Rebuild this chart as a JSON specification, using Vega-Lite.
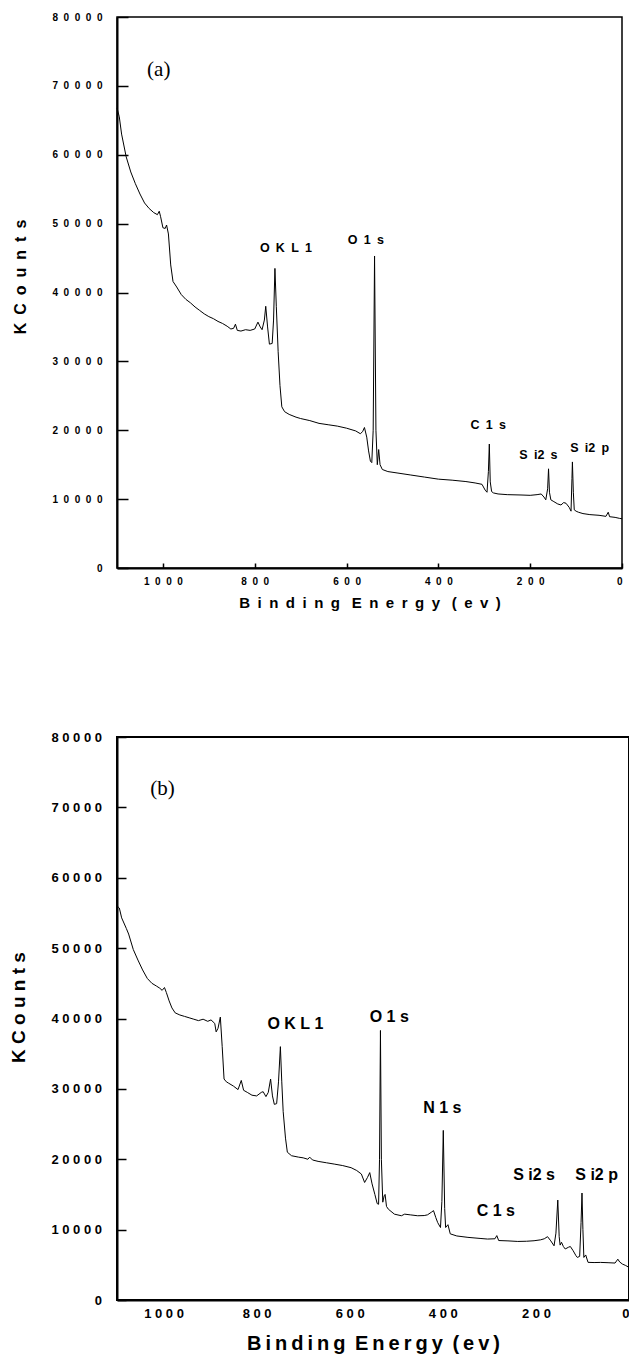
{
  "$schema": "https://vega.github.io/schema/vega-lite/v6.json",
  "background": "white",
  "padding": {"left": 8, "top": 11, "right": 0, "bottom": 0},
  "spacing": 119,
  "config": {
    "axis": {"grid": false, "domainColor": "black", "tickColor": "black", "labelColor": "black", "titleColor": "black", "labelFont": "Liberation Sans", "titleFont": "Liberation Sans", "labelFontWeight": "bold", "titleFontWeight": "bold"},
    "text": {"font": "Liberation Sans", "fontWeight": "bold", "color": "black", "baseline": "middle", "align": "center"}
  },
  "datasets": {
    "specA": [
      {"E":1100,"C":66800},{"E":1095,"C":65500},{"E":1090,"C":63000},{"E":1080,"C":59700},{"E":1070,"C":57500},{"E":1060,"C":55800},{"E":1050,"C":54300},{"E":1040,"C":53000},{"E":1030,"C":52200},{"E":1020,"C":51600},{"E":1012,"C":51300},{"E":1008,"C":51800},{"E":1005,"C":51000},{"E":1000,"C":49400},{"E":995,"C":49300},{"E":992,"C":49800},{"E":988,"C":48500},{"E":983,"C":44000},{"E":978,"C":41600},{"E":970,"C":40800},{"E":960,"C":39700},{"E":950,"C":39000},{"E":940,"C":38500},{"E":930,"C":37900},{"E":920,"C":37400},{"E":910,"C":36900},{"E":900,"C":36500},{"E":890,"C":36200},{"E":880,"C":35800},{"E":870,"C":35500},{"E":860,"C":35100},{"E":852,"C":34700},{"E":846,"C":34800},{"E":842,"C":35400},{"E":838,"C":34500},{"E":830,"C":34400},{"E":820,"C":34600},{"E":810,"C":34500},{"E":800,"C":34700},{"E":793,"C":35700},{"E":788,"C":35000},{"E":784,"C":34600},{"E":779,"C":36000},{"E":776,"C":38000},{"E":772,"C":35000},{"E":768,"C":32500},{"E":762,"C":32600},{"E":759,"C":36000},{"E":756,"C":43500},{"E":753,"C":38000},{"E":749,"C":31400},{"E":745,"C":26500},{"E":741,"C":23400},{"E":735,"C":22700},{"E":725,"C":22300},{"E":710,"C":21900},{"E":700,"C":21700},{"E":680,"C":21400},{"E":660,"C":21000},{"E":640,"C":20800},{"E":620,"C":20600},{"E":600,"C":20300},{"E":580,"C":19900},{"E":570,"C":19500},{"E":565,"C":19800},{"E":561,"C":20400},{"E":556,"C":19000},{"E":552,"C":17000},{"E":548,"C":15500},{"E":545,"C":15300},{"E":542,"C":20000},{"E":539,"C":45300},{"E":536,"C":20000},{"E":533,"C":15000},{"E":530,"C":17200},{"E":527,"C":15000},{"E":522,"C":14300},{"E":510,"C":14000},{"E":490,"C":13800},{"E":460,"C":13500},{"E":430,"C":13200},{"E":400,"C":12900},{"E":370,"C":12750},{"E":340,"C":12550},{"E":320,"C":12350},{"E":305,"C":12150},{"E":298,"C":11300},{"E":294,"C":11000},{"E":291,"C":14000},{"E":289,"C":18000},{"E":287,"C":12500},{"E":284,"C":11100},{"E":280,"C":10900},{"E":270,"C":10750},{"E":250,"C":10650},{"E":220,"C":10600},{"E":200,"C":10550},{"E":185,"C":10650},{"E":176,"C":10750},{"E":170,"C":10300},{"E":166,"C":9900},{"E":162,"C":11500},{"E":160,"C":14400},{"E":158,"C":11000},{"E":155,"C":9900},{"E":150,"C":9700},{"E":140,"C":9300},{"E":133,"C":9150},{"E":127,"C":9500},{"E":122,"C":9400},{"E":115,"C":8800},{"E":111,"C":8250},{"E":109,"C":13000},{"E":108,"C":15400},{"E":106,"C":11000},{"E":104,"C":8450},{"E":100,"C":8250},{"E":95,"C":8100},{"E":85,"C":7900},{"E":70,"C":7750},{"E":50,"C":7650},{"E":35,"C":7500},{"E":30,"C":8100},{"E":27,"C":7450},{"E":15,"C":7350},{"E":5,"C":7200},{"E":0,"C":7150}
    ],
    "labelsA": [
      {"E":732,"C":46530,"label":"O\u2002K\u2002L\u20021"},
      {"E":558,"C":47670,"label":"O\u20021\u2002s"},
      {"E":291.5,"C":20800,"label":"C\u20021\u2002s"},
      {"E":182,"C":16350,"label":"S\u2002i2\u2002s"},
      {"E":70.5,"C":17410,"label":"S\u2002i2\u2002p"}
    ],
    "tagA": [{"E":1009,"C":72320,"label":"(a)"}],
    "specB": [
      {"E":1100,"C":56000},{"E":1095,"C":55700},{"E":1090,"C":54300},{"E":1080,"C":52800},{"E":1075,"C":52000},{"E":1065,"C":49800},{"E":1055,"C":48300},{"E":1045,"C":46900},{"E":1035,"C":45700},{"E":1025,"C":45000},{"E":1015,"C":44600},{"E":1008,"C":44300},{"E":1003,"C":44000},{"E":998,"C":44400},{"E":994,"C":43700},{"E":988,"C":42500},{"E":982,"C":41500},{"E":975,"C":40800},{"E":965,"C":40500},{"E":955,"C":40300},{"E":945,"C":40100},{"E":935,"C":39900},{"E":925,"C":39700},{"E":915,"C":39900},{"E":905,"C":39600},{"E":898,"C":39800},{"E":890,"C":39300},{"E":887,"C":38100},{"E":883,"C":38600},{"E":878,"C":40200},{"E":874,"C":36000},{"E":870,"C":31400},{"E":865,"C":31000},{"E":860,"C":30800},{"E":850,"C":30400},{"E":840,"C":29900},{"E":833,"C":31200},{"E":828,"C":29800},{"E":820,"C":29500},{"E":810,"C":29100},{"E":800,"C":29000},{"E":790,"C":29500},{"E":786,"C":29600},{"E":780,"C":28900},{"E":775,"C":29500},{"E":770,"C":31400},{"E":766,"C":29000},{"E":762,"C":27800},{"E":757,"C":27900},{"E":753,"C":31000},{"E":749,"C":36000},{"E":746,"C":31000},{"E":743,"C":26800},{"E":738,"C":23000},{"E":734,"C":21000},{"E":725,"C":20500},{"E":710,"C":20300},{"E":700,"C":20200},{"E":690,"C":20000},{"E":686,"C":20300},{"E":680,"C":19900},{"E":668,"C":19700},{"E":650,"C":19500},{"E":632,"C":19300},{"E":615,"C":19100},{"E":597,"C":18800},{"E":585,"C":18400},{"E":575,"C":17900},{"E":568,"C":16700},{"E":562,"C":17400},{"E":557,"C":18100},{"E":552,"C":16500},{"E":546,"C":15000},{"E":541,"C":13700},{"E":538,"C":13600},{"E":536,"C":20000},{"E":534,"C":38300},{"E":532,"C":20000},{"E":529,"C":13900},{"E":526,"C":14800},{"E":524,"C":15000},{"E":521,"C":13300},{"E":517,"C":12900},{"E":504,"C":12200},{"E":489,"C":11970},{"E":482,"C":12200},{"E":470,"C":12100},{"E":454,"C":11970},{"E":440,"C":12000},{"E":433,"C":12100},{"E":424,"C":12500},{"E":420,"C":12700},{"E":415,"C":11700},{"E":411,"C":11000},{"E":405,"C":10300},{"E":402,"C":14000},{"E":399,"C":24100},{"E":396,"C":13000},{"E":394,"C":10300},{"E":389,"C":10700},{"E":384,"C":9400},{"E":370,"C":9100},{"E":346,"C":8900},{"E":320,"C":8750},{"E":304,"C":8660},{"E":288,"C":8700},{"E":284,"C":9150},{"E":280,"C":8450},{"E":260,"C":8400},{"E":239,"C":8320},{"E":220,"C":8350},{"E":204,"C":8420},{"E":190,"C":8550},{"E":182,"C":8700},{"E":175,"C":9000},{"E":168,"C":8400},{"E":161,"C":7700},{"E":157,"C":9500},{"E":153,"C":14200},{"E":150,"C":9000},{"E":148,"C":7800},{"E":145,"C":8200},{"E":141,"C":7600},{"E":137,"C":7250},{"E":130,"C":7500},{"E":126,"C":7600},{"E":120,"C":7000},{"E":114,"C":6300},{"E":111,"C":6050},{"E":106,"C":6200},{"E":103,"C":11000},{"E":101,"C":15200},{"E":99,"C":10000},{"E":97,"C":6050},{"E":93,"C":6400},{"E":88,"C":5350},{"E":75,"C":5320},{"E":61,"C":5340},{"E":45,"C":5300},{"E":30,"C":5250},{"E":24,"C":5800},{"E":20,"C":5400},{"E":14,"C":5100},{"E":7,"C":4900},{"E":0,"C":4630}
    ],
    "labelsB": [
      {"E":716.6,"C":39280,"label":"O\u2008K\u2008L\u20081"},
      {"E":515,"C":40230,"label":"O\u20081\u2008s"},
      {"E":401,"C":27350,"label":"N\u20081\u2008s"},
      {"E":286,"C":12580,"label":"C\u20081\u2008s"},
      {"E":204,"C":17790,"label":"S\u2008i2\u2008s"},
      {"E":69.6,"C":17790,"label":"S\u2008i2\u2008p"}
    ],
    "tagB": [{"E":1002,"C":72560,"label":"(b)"}]
  },
  "vconcat": [
    {
      "width": 505,
      "height": 551,
      "view": {"stroke": "black", "strokeWidth": 1.5},
      "encoding": {
        "x": {"field": "E", "type": "quantitative",
          "scale": {"domain": [0, 1100], "reverse": true, "nice": false, "zero": false},
          "axis": {"values": [0, 200, 400, 600, 800, 1000], "format": "d",
            "labelExpr": "replace(datum.label, regexp('(.)(?=.)', 'g'), '$1\u2007')",
            "labelFontSize": 10, "tickSize": -5, "tickWidth": 1.5, "domainWidth": 2, "labelPadding": 13,
            "title": "B\u2002i\u2002n\u2002d\u2002i\u2002n\u2002g\u2002 E\u2002n\u2002e\u2002r\u2002g\u2002y\u2002 (\u2002e\u2002v\u2002)", "titleFontSize": 15, "titlePadding": 9}},
        "y": {"field": "C", "type": "quantitative",
          "scale": {"domain": [0, 80000], "nice": false, "zero": true},
          "axis": {"values": [0, 10000, 20000, 30000, 40000, 50000, 60000, 70000, 80000], "format": "d",
            "labelExpr": "replace(datum.label, regexp('(.)(?=.)', 'g'), '$1\u2007')",
            "labelFontSize": 10, "tickSize": -11, "tickWidth": 1.5, "domainWidth": 2, "labelPadding": 26,
            "title": "K\u2002C\u2002o\u2002u\u2002n\u2002t\u2002s", "titleFontSize": 16, "titleAngle": 270, "titleAlign": "center", "titleBaseline": "alphabetic", "titleX": -92, "titleY": 259.5}}
      },
      "layer": [
        {"data": {"name": "specA"}, "mark": {"type": "line", "color": "black", "strokeWidth": 1}},
        {"data": {"name": "labelsA"}, "mark": {"type": "text", "fontSize": 12.5}, "encoding": {"text": {"field": "label"}}},
        {"data": {"name": "tagA"}, "mark": {"type": "text", "font": "Liberation Serif", "fontWeight": "normal", "fontSize": 21}, "encoding": {"text": {"field": "label"}}}
      ]
    },
    {
      "width": 512,
      "height": 563,
      "view": {"stroke": "black", "strokeWidth": 2},
      "encoding": {
        "x": {"field": "E", "type": "quantitative",
          "scale": {"domain": [0, 1100], "reverse": true, "nice": false, "zero": false},
          "axis": {"values": [0, 200, 400, 600, 800, 1000], "format": "d",
            "labelExpr": "replace(datum.label, regexp('(.)(?=.)', 'g'), '$1\u2008')",
            "labelFontSize": 13, "ticks": false, "domainWidth": 2, "labelPadding": 7,
            "title": "B\u2009i\u2009n\u2009d\u2009i\u2009n\u2009g \u2009E\u2009n\u2009e\u2009r\u2009g\u2009y \u2009(\u2009e\u2009v\u2009)", "titleFontSize": 20, "titlePadding": 13}},
        "y": {"field": "C", "type": "quantitative",
          "scale": {"domain": [0, 80000], "nice": false, "zero": true},
          "axis": {"values": [0, 10000, 20000, 30000, 40000, 50000, 60000, 70000, 80000], "format": "d",
            "labelExpr": "replace(datum.label, regexp('(.)(?=.)', 'g'), '$1\u2008')",
            "labelFontSize": 13, "tickSize": -9, "tickWidth": 1.5, "domainWidth": 2, "labelPadding": 24.5,
            "title": "K\u2008C\u2008o\u2008u\u2008n\u2008t\u2008s", "titleFontSize": 19, "titleAngle": 270, "titleAlign": "center", "titleBaseline": "alphabetic", "titleX": -92.5, "titleY": 270}}
      },
      "layer": [
        {"data": {"name": "specB"}, "mark": {"type": "line", "color": "black", "strokeWidth": 1}},
        {"data": {"name": "labelsB"}, "mark": {"type": "text", "fontSize": 16}, "encoding": {"text": {"field": "label"}}},
        {"data": {"name": "tagB"}, "mark": {"type": "text", "font": "Liberation Serif", "fontWeight": "normal", "fontSize": 21}, "encoding": {"text": {"field": "label"}}}
      ]
    }
  ]
}
